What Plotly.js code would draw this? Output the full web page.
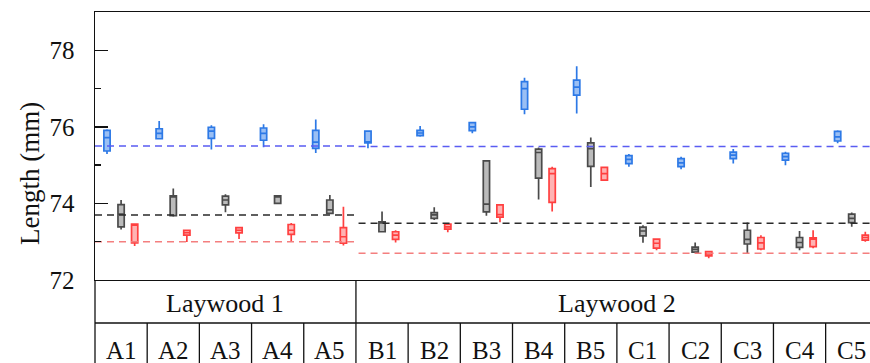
<!DOCTYPE html>
<html>
<head>
<meta charset="utf-8">
<script src="https://cdn.plot.ly/plotly-3.0.1.min.js"></script>
<style>html,body{margin:0;padding:0;background:#fff;}#chart{width:870px;height:363px;}</style>
</head>
<body>
<div id="chart"></div>
<script>
// Categories and groups
var categories = ['A1','A2','A3','A4','A5','B1','B2','B3','B4','B5','C1','C2','C3','C4','C5'];
var groupNames = ['Laywood 1', 'Laywood 2'];
var groupSizes = [5, 10];
var yTitle = 'Length (mm)';

// Blue series (box statistics)
var blueLo  = [75.29,75.69,75.41,75.47,75.32,75.44,75.74,75.83,76.33,76.35,74.96,74.89,75.04,75.00,75.57];
var blueQ1  = [75.37,75.69,75.70,75.65,75.44,75.58,75.77,75.90,76.46,76.83,75.04,74.96,75.17,75.13,75.63];
var blueMed = [75.72,75.83,75.89,75.83,75.60,75.61,75.84,76.00,77.00,77.04,75.15,75.06,75.26,75.22,75.74];
var blueQ3  = [75.91,75.95,75.99,75.97,75.91,75.89,75.91,76.11,77.18,77.22,75.25,75.17,75.34,75.31,75.88];
var blueHi  = [75.94,76.15,76.04,76.07,76.19,75.89,76.02,76.12,77.28,77.58,75.29,75.22,75.42,75.35,75.91];

// Gray series
var grayLo  = [73.32,73.65,73.77,74.00,73.72,73.25,73.57,73.68,74.10,74.43,72.97,72.72,72.69,72.78,73.39];
var grayQ1  = [73.39,73.68,73.96,74.00,73.74,73.26,73.61,73.78,74.66,74.97,73.15,72.73,72.94,72.85,73.50];
var grayMed = [73.72,74.17,74.09,74.17,73.83,73.50,73.70,73.98,75.33,75.43,73.28,72.80,73.06,72.98,73.61];
var grayQ3  = [73.97,74.20,74.19,74.20,74.09,73.52,73.76,75.11,75.42,75.58,73.38,72.86,73.30,73.11,73.72];
var grayHi  = [74.09,74.39,74.24,74.22,74.22,73.79,73.90,75.12,75.46,75.72,73.43,72.98,73.50,73.28,73.76];

// Red series
var redLo   = [72.89,72.99,73.07,73.00,72.90,72.98,73.25,73.51,73.79,74.61,72.78,72.57,72.78,72.83,73.00];
var redQ1   = [72.97,73.17,73.23,73.19,72.96,73.06,73.33,73.64,74.03,74.61,72.83,72.63,72.81,72.87,73.04];
var redMed  = [73.43,73.24,73.30,73.30,73.13,73.17,73.39,73.71,74.78,74.78,72.96,72.68,72.97,73.07,73.11];
var redQ3   = [73.46,73.30,73.37,73.45,73.37,73.26,73.46,73.96,74.91,74.94,73.07,72.74,73.11,73.10,73.17];
var redHi   = [73.48,73.30,73.37,73.49,73.91,73.30,73.46,73.96,74.96,74.94,73.07,72.74,73.17,73.30,73.26];

// Reference (dashed) levels per group
var blueRef = [75.50, 75.49];
var grayRef = [73.70, 73.48];
var redRef  = [73.00, 72.70];

var yTicks = [72, 74, 76, 78];

var xRange = [-0.5, 14.35];
var SERIF = 'Liberation Serif, Times New Roman, serif';

function boxTrace(name, offset, lo, q1, med, q3, hi, line, fill) {
  return {
    type: 'box', name: name,
    x: categories.map(function(c, i){ return i + offset; }),
    lowerfence: lo, q1: q1, median: med, q3: q3, upperfence: hi,
    width: 0.12, whiskerwidth: 0, boxpoints: false,
    line: {color: line, width: 1.7}, fillcolor: fill,
    hoverinfo: 'skip', showlegend: false
  };
}

var traces = [];
// dashed reference lines
var gStart = 0;
var refSets = [[blueRef, '#5a5cf2'], [grayRef, '#2a2a2a'], [redRef, '#f47f7f']];
for (var g = 0; g < groupSizes.length; g++) {
  var x0 = g === 0 ? xRange[0] : gStart - 0.45;
  var x1 = g === groupSizes.length - 1 ? xRange[1] : gStart + groupSizes[g] - 0.5;
  refSets.forEach(function(rs){
    traces.push({type:'scatter', mode:'lines', x:[x0, x1], y:[rs[0][g], rs[0][g]],
      line:{color: rs[1], width: 1.5, dash: '7px,5px'}, hoverinfo:'skip', showlegend:false});
  });
  gStart += groupSizes[g];
}

traces.push(boxTrace('blue', -0.27, blueLo, blueQ1, blueMed, blueQ3, blueHi, '#2d79e6', 'rgba(120,170,240,0.75)'));
traces.push(boxTrace('gray', 0, grayLo, grayQ1, grayMed, grayQ3, grayHi, '#4a4a4a', 'rgba(170,170,170,0.8)'));
traces.push(boxTrace('red', 0.26, redLo, redQ1, redMed, redQ3, redHi, '#ff4040', 'rgba(255,160,160,0.8)'));

// Table below plot (paper coordinates derived from the x range)
var plotW = 870 - 95;
var plotH = 363 - 12 - 83;
function px2paperY(p) { return -(p - 280) / plotH; }
function px2paperX(p) { return (p - 95) / plotW; }
function toPaperX(x) { return (x - xRange[0]) / (xRange[1] - xRange[0]); }
var rowMid = px2paperY(323);
var tableBottom = px2paperY(366);

var shapes = [];
var lineStyle = {color: '#111', width: 1.3};
shapes.push({type:'line', xref:'paper', yref:'paper', x0:0, x1:0, y0:0, y1:tableBottom, line:lineStyle});
shapes.push({type:'line', xref:'paper', yref:'paper', x0:0, x1:1, y0:rowMid, y1:rowMid, line:lineStyle});
var acc = 0;
var annotations = [];
// y-axis title placed as in the reference (lower than plot centre)
annotations.push({xref:'paper', yref:'paper', x:px2paperX(30), y:px2paperY(174), text:yTitle, textangle:-90,
  showarrow:false, xanchor:'center', yanchor:'middle', font:{family:SERIF, size:27, color:'#111'}});
for (var g2 = 0; g2 < groupSizes.length; g2++) {
  var center = acc + (groupSizes[g2] - 1) / 2;
  annotations.push({xref:'x', yref:'paper', x:center, y:px2paperY(303), text:groupNames[g2],
    showarrow:false, xanchor:'center', yanchor:'middle', font:{family:SERIF, size:26, color:'#111'}});
  acc += groupSizes[g2];
  if (g2 < groupSizes.length - 1) {
    shapes.push({type:'line', xref:'paper', yref:'paper', x0:toPaperX(acc - 0.5), x1:toPaperX(acc - 0.5),
      y0:0, y1:tableBottom, line:lineStyle});
  }
}
categories.forEach(function(c, i){
  annotations.push({xref:'x', yref:'paper', x:i, y:px2paperY(350), text:c, showarrow:false,
    xanchor:'center', yanchor:'middle', font:{family:SERIF, size:25, color:'#111'}});
  if (i < categories.length - 1 && i + 1 !== groupSizes[0]) {
    shapes.push({type:'line', xref:'paper', yref:'paper', x0:toPaperX(i + 0.5), x1:toPaperX(i + 0.5),
      y0:rowMid, y1:tableBottom, line:lineStyle});
  }
});

var layout = {
  width: 870, height: 363,
  margin: {l: 95, r: 0, t: 12, b: 83, pad: 0},
  paper_bgcolor: '#fff', plot_bgcolor: '#fff',
  showlegend: false, boxmode: 'overlay',
  font: {family: SERIF, color: '#111'},
  xaxis: {range: xRange, showticklabels: false, ticks: '', showgrid: false, zeroline: false,
    showline: true, mirror: true, linecolor: '#111', linewidth: 1.3, fixedrange: true},
  yaxis: {range: [72, 79], tickmode: 'array', tickvals: yTicks, ticktext: yTicks.map(String),
    ticks: 'inside', ticklen: 13, tickwidth: 1.5, tickcolor: '#111',
    minor: {dtick: 1, tick0: 72, ticks: 'inside', ticklen: 6, tickwidth: 1.5, tickcolor: '#111'},
    showgrid: false, zeroline: false, showline: true, linecolor: '#111', linewidth: 1.5,
    tickfont: {family: SERIF, size: 25, color: '#111'}, ticklabelstandoff: 14,
    fixedrange: true},
  shapes: shapes,
  annotations: annotations
};

Plotly.newPlot('chart', traces, layout, {displayModeBar: false, staticPlot: true});
</script>
</body>
</html>
